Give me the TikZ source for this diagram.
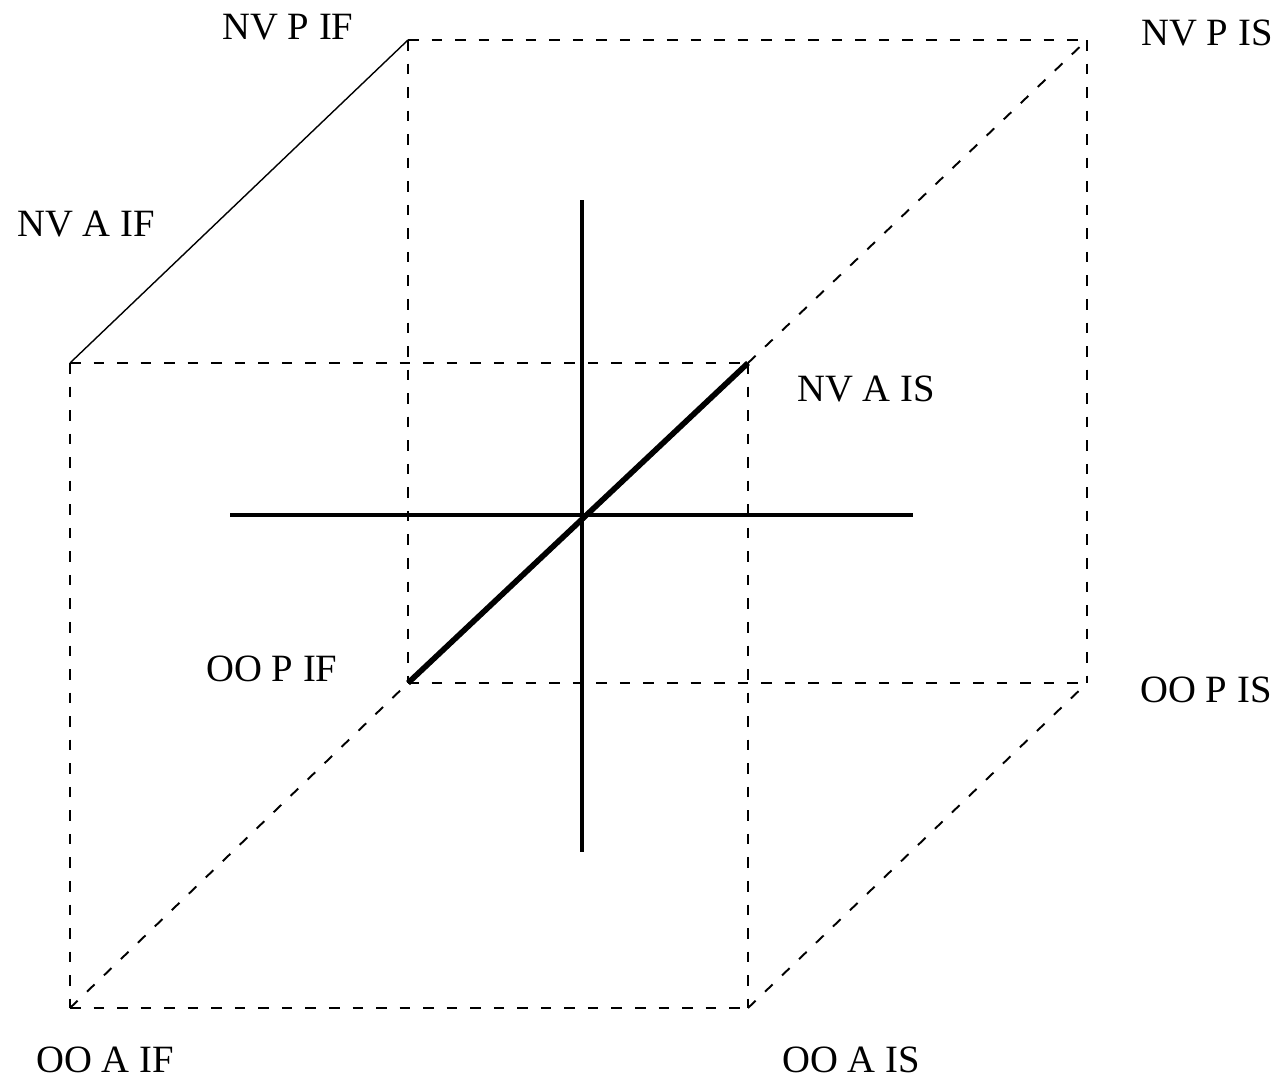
\documentclass[tikz,border=0pt]{standalone}
\usepackage{fontspec}
\setmainfont{Liberation Serif}
\begin{document}
\begin{tikzpicture}[x=0.02cm,y=-0.02cm,
  edge/.style={line width=1.1pt,dash pattern=on 6pt off 7.4pt},
  solidedge/.style={line width=0.8pt},
  axis/.style={line width=2.4pt},
  diag/.style={line width=3.2pt},
  lbl/.style={font=\fontsize{22}{24}\selectfont,inner sep=0pt}]
\useasboundingbox (0,0) rectangle (1281,1079);
% front face
\coordinate (FTL) at (70,363);
\coordinate (FTR) at (748,363);
\coordinate (FBL) at (70,1008);
\coordinate (FBR) at (748,1008);
% back face
\coordinate (BTL) at (408,40);
\coordinate (BTR) at (1087,40);
\coordinate (BBL) at (408,683);
\coordinate (BBR) at (1087,683);
% axes
\coordinate (HL) at (230,515);
\coordinate (HR) at (913,515);
\coordinate (VT) at (582,200);
\coordinate (VB) at (582,852);

\draw[edge] (FTL) -- (FTR);
\draw[edge] (FTL) -- (FBL);
\draw[edge] (FBL) -- (FBR);
\draw[edge] (FTR) -- (FBR);
\draw[edge] (BTL) -- (BTR);
\draw[edge] (BTL) -- (BBL);
\draw[edge] (BBL) -- (BBR);
\draw[edge] (BTR) -- (BBR);
\draw[solidedge] (FTL) -- (BTL);
\draw[edge] (FTR) -- (BTR);
\draw[edge] (FBL) -- (BBL);
\draw[edge] (FBR) -- (BBR);

\draw[diag] (BBL) -- (FTR);
\draw[axis] (HL) -- (HR);
\draw[axis] (VT) -- (VB);

\node[lbl] (nvpif) at (288,27) {NV P IF};
\node[lbl] (nvpis) at (1207,33) {NV P IS};
\node[lbl] (nvaif) at (86,224) {NV A IF};
\node[lbl] (nvais) at (866,389) {NV A IS};
\node[lbl] (oopif) at (272,669) {OO P IF};
\node[lbl] (oopis) at (1206,690) {OO P IS};
\node[lbl] (ooaif) at (105,1060) {OO A IF};
\node[lbl] (ooais) at (851,1060) {OO A IS};
\end{tikzpicture}
\end{document}
